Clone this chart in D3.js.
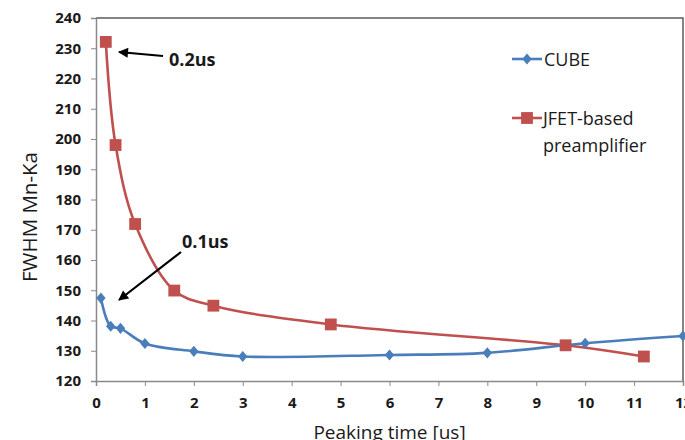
<!DOCTYPE html>
<html>
<head>
<meta charset="utf-8">
<script src="https://cdn.jsdelivr.net/npm/d3@7"></script>
<style>
  html, body { margin: 0; padding: 0; background: #fff; }
  svg { display: block; }
  text { font-family: "Open Sans", Lato, sans-serif; fill: #1a1a1a; }
</style>
</head>
<body>
<svg id="chart" width="685" height="440"></svg>
<script>
// Peaking time [us] and FWHM Mn-Ka for each front end
const cubeTime = [0.1, 0.3, 0.5, 1, 2, 3, 6, 8, 10, 12];
const cubeFwhm = [147.4, 138.1, 137.4, 132.4, 129.8, 128.1, 128.6, 129.3, 132.5, 134.9];
const jfetTime = [0.2, 0.4, 0.8, 1.6, 2.4, 4.8, 9.6, 11.2];
const jfetFwhm = [232.1, 198, 171.9, 149.9, 144.9, 138.7, 131.8, 128.1];
const xTicks = [0, 1, 2, 3, 4, 5, 6, 7, 8, 9, 10, 11, 12];
const yTicks = [120, 130, 140, 150, 160, 170, 180, 190, 200, 210, 220, 230, 240];
const seriesNames = ["CUBE", "JFET-based", "preamplifier"];

const svg = d3.select("#chart");
const plotLeft = 96, plotRight = 683, plotTop = 18, plotBottom = 381;

const x = d3.scaleLinear().domain([0, 12]).range([plotLeft, plotRight]);
const y = d3.scaleLinear().domain([120, 240]).range([plotBottom, plotTop]);

const axisColor = "#8a8a8a";

// frame: top and right borders
svg.append("path")
  .attr("d", `M${plotLeft},${plotTop}H${plotRight}V${plotBottom}`)
  .attr("fill", "none").attr("stroke", "#5e5e5e").attr("stroke-width", 1.5);

// y axis
const gy = svg.append("g").attr("transform", `translate(${plotLeft},0)`)
  .call(d3.axisLeft(y).tickValues(yTicks).tickSize(5).tickPadding(10).tickFormat(d3.format("d")));
gy.select(".domain").attr("stroke", axisColor).attr("stroke-width", 1.5);
gy.selectAll(".tick line").attr("stroke", axisColor);
gy.selectAll(".tick text").style("font-size", "15px").style("font-weight", "700").attr("fill", "#1a1a1a");

// x axis
const gx = svg.append("g").attr("transform", `translate(0,${plotBottom})`)
  .call(d3.axisBottom(x).tickValues(xTicks).tickSize(5).tickPadding(11).tickFormat(d3.format("d")));
gx.select(".domain").attr("stroke", axisColor).attr("stroke-width", 1.5);
gx.selectAll(".tick line").attr("stroke", axisColor);
gx.selectAll(".tick text").style("font-size", "15px").style("font-weight", "700").attr("fill", "#1a1a1a");

// axis titles
svg.append("text")
  .attr("transform", "translate(37,217) rotate(-90)")
  .attr("text-anchor", "middle")
  .style("font-size", "20.5px")
  .text("FWHM Mn-Ka");
svg.append("text")
  .attr("x", (plotLeft + plotRight) / 2).attr("y", 439)
  .attr("text-anchor", "middle")
  .style("font-size", "19px")
  .text("Peaking time [us]");

const line = d3.line().x(d => x(d[0])).y(d => y(d[1])).curve(d3.curveCatmullRom.alpha(0.5));

const blue = "#4a7ebb", red = "#c0504d";
const cube = cubeTime.map((t, i) => [t, cubeFwhm[i]]);
const jfet = jfetTime.map((t, i) => [t, jfetFwhm[i]]);

const plot = svg.append("g");
plot.append("path").datum(jfet).attr("d", line)
  .attr("fill", "none").attr("stroke", red).attr("stroke-width", 2.6);
plot.append("path").datum(cube).attr("d", line)
  .attr("fill", "none").attr("stroke", blue).attr("stroke-width", 2.6);

// marker shapes: slightly tall diamond and a square
const diamondType = {
  draw(ctx, size) {
    const h = Math.sqrt(size) * 0.62, w = h * 0.85;
    ctx.moveTo(0, -h); ctx.lineTo(w, 0); ctx.lineTo(0, h); ctx.lineTo(-w, 0); ctx.closePath();
  }
};
const diamond = d3.symbol().type(diamondType).size(80);
const square = d3.symbol().type(d3.symbolSquare).size(140);

plot.selectAll(".jm").data(jfet).join("path")
  .attr("transform", d => `translate(${x(d[0])},${y(d[1])})`)
  .attr("d", square).attr("fill", red);
plot.selectAll(".cm").data(cube).join("path")
  .attr("transform", d => `translate(${x(d[0])},${y(d[1])})`)
  .attr("d", diamond).attr("fill", blue);

// legend
const lg = svg.append("g");
lg.append("line").attr("x1", 512).attr("x2", 542).attr("y1", 59).attr("y2", 59)
  .attr("stroke", blue).attr("stroke-width", 2.6);
lg.append("path").attr("transform", "translate(527,59)").attr("d", diamond).attr("fill", blue);
lg.append("text").attr("x", 544).attr("y", 65.5).style("font-size", "18px").text(seriesNames[0]);
lg.append("line").attr("x1", 512).attr("x2", 542).attr("y1", 118).attr("y2", 118)
  .attr("stroke", red).attr("stroke-width", 2.6);
lg.append("path").attr("transform", "translate(527,118)").attr("d", square).attr("fill", red);
lg.append("text").attr("x", 543).attr("y", 124.5).style("font-size", "18px").text(seriesNames[1]);
lg.append("text").attr("x", 543).attr("y", 151.5).style("font-size", "18px").text(seriesNames[2]);

// annotations
svg.append("defs").append("marker")
  .attr("id", "arrow").attr("viewBox", "0 0 10 10").attr("refX", 9).attr("refY", 5)
  .attr("markerWidth", 14).attr("markerHeight", 10).attr("orient", "auto")
  .attr("markerUnits", "userSpaceOnUse")
  .append("path").attr("d", "M0,0L10,5L0,10Z").attr("fill", "#000");

function annotate(x1, y1, x2, y2, tx, ty, label) {
  svg.append("line").attr("x1", x1).attr("y1", y1).attr("x2", x2).attr("y2", y2)
    .attr("stroke", "#000").attr("stroke-width", 2.2).attr("marker-end", "url(#arrow)");
  svg.append("text").attr("x", tx).attr("y", ty)
    .style("font-size", "18px").style("font-weight", "700").text(label);
}
annotate(163, 56, 119, 52, 169, 65.5, "0.2us");
annotate(181, 252, 119, 300, 182, 247.5, "0.1us");
</script>
</body>
</html>
